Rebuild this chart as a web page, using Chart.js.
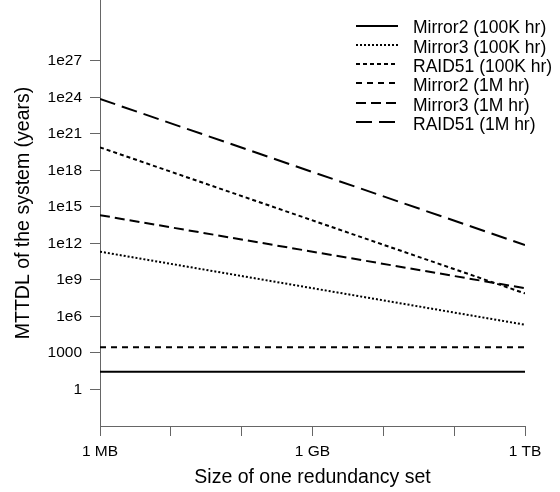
<!DOCTYPE html>
<html>
<head>
<meta charset="utf-8">
<script src="https://cdn.jsdelivr.net/npm/chart.js@4"></script>
<style>
  html, body { margin: 0; padding: 0; background: #fff; }
</style>
</head>
<body>
<canvas id="mttdl" width="560" height="492"></canvas>
<script>
// x values in MB: 1 MB .. 1 TB (lines are straight on log-log)
const sizesMB = [1, 1e6];

const mirror2_100k = [28, 28];
const mirror3_100k = [2.1e11, 2.1e5];
const raid51_100k  = [7.8e19, 7.8e7];
const mirror2_1m   = [2900, 2900];
const mirror3_1m   = [2.1e14, 2.1e8];
const raid51_1m    = [7.4e23, 7.4e11];

const seriesNames = ['Mirror2 (100K hr)', 'Mirror3 (100K hr)', 'RAID51 (100K hr)',
                     'Mirror2 (1M hr)', 'Mirror3 (1M hr)', 'RAID51 (1M hr)'];

const xTicks      = [1, 10, 100, 1e3, 1e4, 1e5, 1e6];
const xTickLabels = ['1 MB', '', '', '1 GB', '', '', '1 TB'];
const yTicks      = [1, 1e3, 1e6, 1e9, 1e12, 1e15, 1e18, 1e21, 1e24, 1e27];
const yTickLabels = ['1', '1000', '1e6', '1e9', '1e12', '1e15', '1e18', '1e21', '1e24', '1e27'];

const FONT = '"Liberation Sans", Arial, Helvetica, sans-serif';
const AXIS = '#666';

const pts = vals => sizesMB.map((x, i) => ({ x, y: vals[i] }));
const line = (i, vals, dash) => ({
  label: seriesNames[i],
  data: pts(vals),
  borderColor: '#000',
  borderWidth: 2,
  borderDash: dash,
  pointRadius: 0,
  fill: false,
  tension: 0
});

// legend drawn inside the plot, top right, with line samples
const lineLegend = {
  id: 'lineLegend',
  afterDraw(chart) {
    const ctx = chart.ctx;
    ctx.save();
    ctx.font = '17.5px ' + FONT;
    ctx.textBaseline = 'middle';
    ctx.fillStyle = '#000';
    chart.data.datasets.forEach((ds, i) => {
      const y = 28.5 + i * 19.3;
      ctx.strokeStyle = ds.borderColor;
      ctx.lineWidth = ds.borderWidth;
      ctx.setLineDash(ds.borderDash || []);
      ctx.beginPath();
      ctx.moveTo(356, Math.round(y - 3));
      ctx.lineTo(398, Math.round(y - 3));
      ctx.stroke();
      ctx.fillText(ds.label, 413, y);
    });
    ctx.restore();
  }
};

new Chart(document.getElementById('mttdl'), {
  type: 'line',
  data: {
    datasets: [
      line(0, mirror2_100k, []),
      line(1, mirror3_100k, [2, 2]),
      line(2, raid51_100k,  [4, 3]),
      line(3, mirror2_1m,   [6, 5]),
      line(4, mirror3_1m,   [10, 5]),
      line(5, raid51_1m,    [16, 7])
    ]
  },
  options: {
    responsive: false,
    animation: false,
    layout: { padding: { top: 0, right: 35, left: 0, bottom: 0 } },
    plugins: { legend: { display: false }, tooltip: { enabled: false } },
    scales: {
      x: {
        type: 'logarithmic',
        min: 1, max: 1e6,
        afterBuildTicks: s => { s.ticks = xTicks.map(v => ({ value: v })); },
        afterFit: s => { s.height = 66; s.paddingLeft = 0; s.paddingRight = 0; },
        ticks: {
          autoSkip: false, maxRotation: 0, padding: 6, color: '#000',
          font: { family: FONT, size: 15.5 },
          callback: (v, i) => xTickLabels[i]
        },
        grid: { drawOnChartArea: false, drawTicks: true, tickLength: 10, color: AXIS },
        border: { display: true, color: AXIS, width: 1 },
        title: {
          display: true, text: 'Size of one redundancy set', color: '#000',
          font: { family: FONT, size: 19.5 }, padding: { top: 3, bottom: 3 }
        }
      },
      y: {
        type: 'logarithmic',
        min: 1e-3, max: 1e32,
        afterBuildTicks: s => { s.ticks = yTicks.map(v => ({ value: v })); },
        afterFit: s => { s.width = 100; s.paddingTop = 0; s.paddingBottom = 0; },
        ticks: {
          autoSkip: false, padding: 8, color: '#000',
          font: { family: FONT, size: 15.5 },
          callback: (v, i) => yTickLabels[i]
        },
        grid: { drawOnChartArea: false, drawTicks: true, tickLength: 10, color: AXIS },
        border: { display: true, color: AXIS, width: 1 },
        title: {
          display: true, text: 'MTTDL of the system (years)', color: '#000',
          font: { family: FONT, size: 19.5 }, padding: { top: 12, bottom: 12 }
        }
      }
    }
  },
  plugins: [lineLegend]
});
</script>
</body>
</html>
